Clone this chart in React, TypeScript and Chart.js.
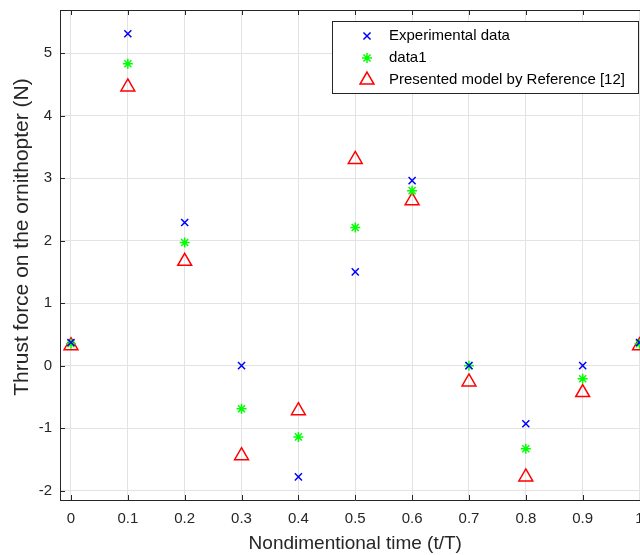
import React, { useEffect, useRef } from "react";
import { Chart, registerables } from "chart.js";

Chart.register(...registerables);

const timeValues = [0, 0.1, 0.2, 0.3, 0.4, 0.5, 0.6, 0.7, 0.8, 0.9, 1.0];
const experimentalData = [0.37, 5.31, 2.29, 0, -1.78, 1.5, 2.96, 0, -0.93, 0, 0.37];
const data1Values = [0.35, 4.83, 1.97, -0.69, -1.14, 2.21, 2.8, 0, -1.33, -0.21, 0.35];
const modelValues = [0.32, 4.46, 1.67, -1.44, -0.72, 3.3, 2.64, -0.26, -1.78, -0.43, 0.32];
const xTickValues = [0, 0.1, 0.2, 0.3, 0.4, 0.5, 0.6, 0.7, 0.8, 0.9, 1];
const yTickValues = [-2, -1, 0, 1, 2, 3, 4, 5];
const seriesLabels = ["Experimental data", "data1", "Presented model by Reference [12]"];
const yAxisTitle = "Thrust force on the ornithopter (N)";
const xAxisTitle = "Nondimentional time (t/T)";

const FONT = "'Liberation Sans', Arial, sans-serif";
const AXIS = "#262626";

function drawMarker(ctx: CanvasRenderingContext2D, style: string, r: number, x: number, y: number) {
  ctx.beginPath();
  if (style === "crossRot") {
    const o = Math.cos(Math.PI / 4) * r;
    ctx.moveTo(x - o, y - o);
    ctx.lineTo(x + o, y + o);
    ctx.moveTo(x - o, y + o);
    ctx.lineTo(x + o, y - o);
  } else if (style === "star") {
    const o = Math.cos(Math.PI / 4) * r;
    ctx.moveTo(x - r, y);
    ctx.lineTo(x + r, y);
    ctx.moveTo(x, y - r);
    ctx.lineTo(x, y + r);
    ctx.moveTo(x - o, y - o);
    ctx.lineTo(x + o, y + o);
    ctx.moveTo(x - o, y + o);
    ctx.lineTo(x + o, y - o);
  } else if (style === "triangle") {
    ctx.moveTo(x, y - r);
    const a1 = (2 * Math.PI) / 3;
    ctx.lineTo(x + Math.sin(a1) * r, y - Math.cos(a1) * r);
    const a2 = (4 * Math.PI) / 3;
    ctx.lineTo(x + Math.sin(a2) * r, y - Math.cos(a2) * r);
    ctx.closePath();
  }
  ctx.stroke();
}

const boxPlugin = {
  id: "matlabBox",
  afterDraw(chart: any) {
    const { ctx, chartArea: a, scales } = chart;
    ctx.save();
    ctx.strokeStyle = AXIS;
    ctx.lineWidth = 1;
    ctx.beginPath();
    ctx.moveTo(a.left + 0.5, a.top + 0.5);
    ctx.lineTo(a.right - 0.5, a.top + 0.5);
    ctx.lineTo(a.right - 0.5, a.bottom - 0.5);
    ctx.stroke();
    const tl = 5;
    ctx.beginPath();
    for (const v of xTickValues) {
      const x = Math.round(scales.x.getPixelForValue(v)) + 0.5;
      ctx.moveTo(x, a.bottom);
      ctx.lineTo(x, a.bottom - tl);
      ctx.moveTo(x, a.top);
      ctx.lineTo(x, a.top + tl);
    }
    for (const v of yTickValues) {
      const y = Math.round(scales.y.getPixelForValue(v)) + 0.5;
      ctx.moveTo(a.left, y);
      ctx.lineTo(a.left + tl, y);
      ctx.moveTo(a.right, y);
      ctx.lineTo(a.right - tl, y);
    }
    ctx.stroke();

    // y axis title
    ctx.save();
    ctx.translate(22, 237);
    ctx.rotate(-Math.PI / 2);
    ctx.fillStyle = AXIS;
    ctx.font = `21px ${FONT}`;
    ctx.textAlign = "center";
    ctx.textBaseline = "middle";
    ctx.fillText(yAxisTitle, 0, 0);
    ctx.restore();

    // legend
    const lx = 332, ly = 21, lw = 306, lh = 72;
    ctx.fillStyle = "#ffffff";
    ctx.fillRect(lx, ly, lw, lh);
    ctx.strokeStyle = AXIS;
    ctx.strokeRect(lx + 0.5, ly + 0.5, lw, lh);
    const rows = [36, 58, 80];
    chart.data.datasets.forEach((ds: any, i: number) => {
      const cy = rows[i];
      ctx.lineWidth = ds.pointBorderWidth;
      ctx.strokeStyle = ds.pointBorderColor;
      drawMarker(ctx, ds.pointStyle, ds.pointRadius, 367, cy);
      ctx.fillStyle = "#000000";
      ctx.font = `15px ${FONT}`;
      ctx.textBaseline = "middle";
      ctx.textAlign = "left";
      ctx.fillText(ds.label, 389, cy);
    });
    ctx.restore();
  },
};

export default function App() {
  const ref = useRef<HTMLCanvasElement>(null);
  useEffect(() => {
    if (!ref.current) return;
    const mk = (vals: number[]) => timeValues.map((t, i) => ({ x: t, y: vals[i] }));
    const chart = new Chart(ref.current, {
      type: "scatter",
      data: {
        datasets: [
          {
            label: seriesLabels[0],
            data: mk(experimentalData),
            pointStyle: "crossRot",
            pointRadius: 5,
            pointBorderWidth: 1.5,
            pointBorderColor: "#0000ff",
            pointBackgroundColor: "rgba(0,0,0,0)",
            borderColor: "#0000ff",
            showLine: false,
          },
          {
            label: seriesLabels[1],
            data: mk(data1Values),
            pointStyle: "star",
            pointRadius: 5,
            pointBorderWidth: 1.5,
            pointBorderColor: "#00ff00",
            pointBackgroundColor: "rgba(0,0,0,0)",
            borderColor: "#00ff00",
            showLine: false,
          },
          {
            label: seriesLabels[2],
            data: mk(modelValues),
            pointStyle: "triangle",
            pointRadius: 8,
            pointBorderWidth: 1.5,
            pointBorderColor: "#ff0000",
            pointBackgroundColor: "rgba(0,0,0,0)",
            borderColor: "#ff0000",
            showLine: false,
          },
        ] as any,
      },
      options: {
        animation: false,
        responsive: false,
        layout: { padding: { top: 10, right: 8, left: 0, bottom: 0 } },
        plugins: { legend: { display: false }, tooltip: { enabled: false } },
        scales: {
          x: {
            type: "linear",
            min: -0.0193,
            max: 1.0193,
            afterFit: (s: any) => {
              s.height = 55;
              s.paddingLeft = 0;
              s.paddingRight = 0;
            },
            afterBuildTicks: (s: any) => {
              s.ticks = xTickValues.map((v) => ({ value: v }));
            },
            ticks: {
              padding: 10,
              color: AXIS,
              font: { family: FONT, size: 15 },
              callback: (v: any) => String(Math.round(Number(v) * 10) / 10),
              maxRotation: 0,
              autoSkip: false,
            },
            grid: { color: "#e3e3e3", drawTicks: false },
            border: { display: true, color: AXIS, width: 1 },
            title: {
              display: true,
              text: xAxisTitle,
              color: AXIS,
              font: { family: FONT, size: 19 },
              padding: { top: 0, bottom: 0 },
            },
          },
          y: {
            type: "linear",
            min: -2.15,
            max: 5.69,
            afterFit: (s: any) => {
              s.width = 60;
              s.paddingTop = 0;
              s.paddingBottom = 0;
            },
            afterBuildTicks: (s: any) => {
              s.ticks = yTickValues.map((v) => ({ value: v }));
            },
            ticks: {
              padding: 8,
              color: AXIS,
              font: { family: FONT, size: 15 },
              callback: (v: any) => String(v),
              autoSkip: false,
            },
            grid: { color: "#e3e3e3", drawTicks: false },
            border: { display: true, color: AXIS, width: 1 },
            title: { display: false },
          },
        },
      },
      plugins: [boxPlugin],
    });
    return () => chart.destroy();
  }, []);

  return (
    <div
      style={{
        position: "fixed",
        left: 0,
        top: 0,
        width: 640,
        height: 555,
        overflow: "hidden",
        background: "#ffffff",
      }}
    >
      <canvas ref={ref} width={660} height={555} style={{ display: "block" }} />
    </div>
  );
}
